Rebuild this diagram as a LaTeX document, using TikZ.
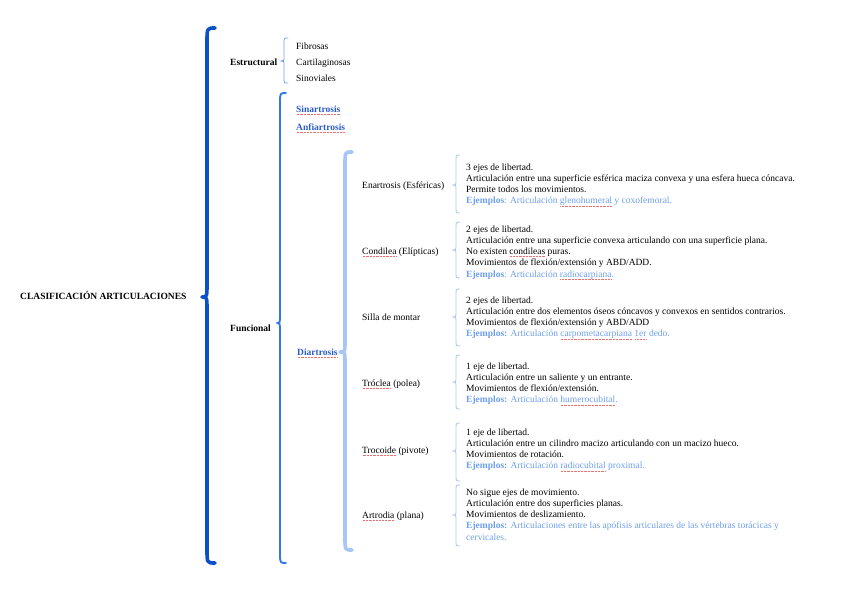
\documentclass[tikz,border=0pt]{standalone}
\usepackage{fontspec}
\setmainfont{Liberation Serif}
\definecolor{bigblue}{HTML}{0C50C8}
\definecolor{midblue}{HTML}{3478E6}
\definecolor{ltblue}{HTML}{A8C5F5}
\definecolor{smblue}{HTML}{AFC8EE}
\definecolor{exblue}{HTML}{6D9EEB}
\definecolor{lnkblue}{HTML}{2A5CC8}
\definecolor{splred}{HTML}{EC7070}
\newsavebox\splbox
\newcommand\spl[1]{\leavevmode\sbox\splbox{#1}\rlap{\lower2pt\hbox to \wd\splbox{\color{splred}\xleaders\hbox{\kern0.45pt\rule{0.5pt}{0.35pt}\kern0.45pt}\hfill}}\usebox\splbox}
\newcommand\bracepath[7]{(#1,#4) .. controls (#2,#4) .. (#2,{#4+#7}) -- (#2,{#5-#7}) .. controls (#2,#5) .. (#3,#5) .. controls (#2,#5) .. (#2,{#5+#7}) -- (#2,{#6-#7}) .. controls (#2,#6) .. (#1,#6)}
\tikzset{
  txt/.style={inner sep=0pt, font=\fontsize{9.5}{11.2}\selectfont},
  lbl/.style={txt, anchor=base west},
  blk/.style={txt, anchor=north west, align=left},
  bigbr/.style={draw=bigblue, line width=3.6pt, line cap=round, line join=round},
  funbr/.style={draw=midblue, line width=1.9pt, line cap=round, line join=round},
  diabr/.style={draw=ltblue, line width=3.6pt, line cap=round, line join=round},
  estbr/.style={draw=midblue!70, line width=0.8pt, line cap=round},
  smbr/.style={draw=smblue, line width=0.9pt, line cap=round},
}
\begin{document}
\begin{tikzpicture}[x=1pt,y=-1pt]
\useasboundingbox (0,0) rectangle (848,598);
% braces
\draw[bigbr] \bracepath{215}{207}{202}{28}{297}{563}{14};
\draw[funbr] \bracepath{286}{280}{277}{93}{323}{563}{10};
\draw[diabr] \bracepath{352}{345}{340}{152}{352}{550}{12};
\draw[estbr] \bracepath{288}{284}{281}{38}{61}{83}{5};
\draw[smbr] \bracepath{460}{456}{452}{155}{185}{213}{5};
\draw[smbr] \bracepath{460}{456}{452}{222}{250}{278}{5};
\draw[smbr] \bracepath{460}{456}{452}{289}{317}{346}{5};
\draw[smbr] \bracepath{460}{456}{452}{355}{382}{409}{5};
\draw[smbr] \bracepath{460}{456}{452}{423}{451}{481}{5};
\draw[smbr] \bracepath{460}{456}{452}{485}{515}{546}{5};
% labels
\node[lbl] (root) at (20,299) {\textbf{CLASIFICACIÓN ARTICULACIONES}};
\node[lbl] (estr) at (230,65) {\textbf{Estructural}};
\node[lbl] (fib) at (296,49) {Fibrosas};
\node[lbl] (car) at (296,65) {Cartilaginosas};
\node[lbl] (sin) at (296,81) {Sinoviales};
\node[lbl, text=lnkblue] (sinar) at (296,112) {\textbf{\spl{Sinartrosis}}};
\node[lbl, text=lnkblue] (anfi) at (296,130) {\textbf{\spl{Anfiartrosis}}};
\node[lbl] (func) at (230,331) {\textbf{Funcional}};
\node[lbl, text=lnkblue] (diar) at (297,355) {\textbf{\spl{Diartrosis}}};
\node[lbl] (enar) at (362,188) {Enartrosis (Esféricas)};
\node[lbl] (cond) at (362,254) {\spl{Condilea} (Elípticas)};
\node[lbl] (silla) at (362,320) {Silla de montar};
\node[lbl] (trocl) at (362,386) {\spl{Tróclea} (polea)};
\node[lbl] (troco) at (362,453) {\spl{Trocoide} (pivote)};
\node[lbl] (artr) at (362,518) {\spl{Artrodia} (plana)};
% description blocks
\node[blk] (d1) at (466,163.5) {3 ejes de libertad.\\
Articulación entre una superficie esférica maciza convexa y una esfera hueca cóncava.\\
Permite todos los movimientos.\\
{\color{exblue}\textbf{Ejemplos}: Articulación \spl{glenohumeral} y coxofemoral.}};
\node[blk] (d2) at (466,225.5) {2 ejes de libertad.\\
Articulación entre una superficie convexa articulando con una superficie plana.\\
No existen \spl{condileas} puras.\\
Movimientos de flexión/extensión y ABD/ADD.\\
{\color{exblue}\textbf{Ejemplos}: Articulación \spl{radiocarpiana}.}};
\node[blk] (d3) at (466,296.5) {2 ejes de libertad.\\
Articulación entre dos elementos óseos cóncavos y convexos en sentidos contrarios.\\
Movimientos de flexión/extensión y ABD/ADD\\
{\color{exblue}\textbf{Ejemplos:} Articulación \spl{carpometacarpiana} \spl{1er} dedo.}};
\node[blk] (d4) at (466,362.5) {1 eje de libertad.\\
Articulación entre un saliente y un entrante.\\
Movimientos de flexión/extensión.\\
{\color{exblue}\textbf{Ejemplos:} Articulación \spl{humerocubital}.}};
\node[blk] (d5) at (466,428.5) {1 eje de libertad.\\
Articulación entre un cilindro macizo articulando con un macizo hueco.\\
Movimientos de rotación.\\
{\color{exblue}\textbf{Ejemplos:} Articulación \spl{radiocubital} proximal.}};
\node[blk] (d6) at (466,488.5) {No sigue ejes de movimiento.\\
Articulación entre dos superficies planas.\\
Movimientos de deslizamiento.\\
{\color{exblue}\textbf{Ejemplos:} Articulaciones entre las apófisis articulares de las vértebras torácicas y}\\
{\color{exblue}cervicales.}};
\end{tikzpicture}
\end{document}
